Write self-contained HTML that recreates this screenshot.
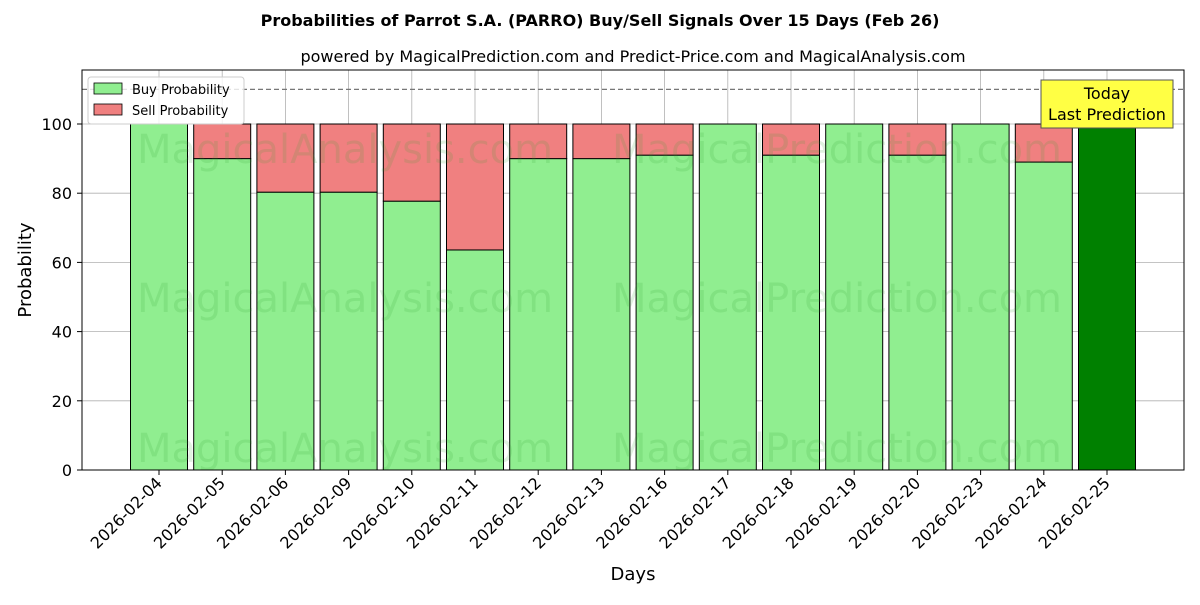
<!DOCTYPE html>
<html><head><meta charset="utf-8"><style>
body{margin:0;background:#fff;font-family:"Liberation Sans","DejaVu Sans",sans-serif}
</style></head><body>
<svg id="chart" width="1200" height="600" xmlns="http://www.w3.org/2000/svg" font-family="DejaVu Sans, Liberation Sans, sans-serif">
<rect width="1200" height="600" fill="#fff"/>
<text x="600" y="26" text-anchor="middle" font-size="16" font-weight="bold">Probabilities of Parrot S.A. (PARRO) Buy/Sell Signals Over 15 Days (Feb 26)</text>
<text x="633" y="62" text-anchor="middle" font-size="16">powered by MagicalPrediction.com and Predict-Price.com and MagicalAnalysis.com</text>
<g id="grid"></g>
<g id="bars"></g>
<g id="wm" fill="#2ca02c" fill-opacity="0.15" font-size="40">
<text x="345" y="163" text-anchor="middle">MagicalAnalysis.com</text>
<text x="837" y="163" text-anchor="middle">MagicalPrediction.com</text>
<text x="345" y="312" text-anchor="middle">MagicalAnalysis.com</text>
<text x="837" y="312" text-anchor="middle">MagicalPrediction.com</text>
<text x="345" y="462" text-anchor="middle">MagicalAnalysis.com</text>
<text x="837" y="462" text-anchor="middle">MagicalPrediction.com</text>
</g>
<line id="ref" x1="82" x2="1184" stroke="#777" stroke-width="1.2" stroke-dasharray="5,3"/>
<rect x="82" y="70" width="1102" height="400" fill="none" stroke="#000" stroke-width="1"/>
<g id="axes" font-size="16"></g>
<text x="633" y="580" text-anchor="middle" font-size="18">Days</text>
<text transform="translate(31,270) rotate(-90)" text-anchor="middle" font-size="18">Probability</text>
<g>
<rect x="88" y="77" width="156" height="47" fill="#fff" fill-opacity="0.8" stroke="#ccc" rx="3"/>
<rect x="94" y="83" width="28" height="11" fill="#90ee90" stroke="#000" stroke-width="0.8"/>
<text x="132" y="94" font-size="13">Buy Probability</text>
<rect x="94" y="104" width="28" height="11" fill="#f08080" stroke="#000" stroke-width="0.8"/>
<text x="132" y="115" font-size="13">Sell Probability</text>
</g>
<g>
<rect x="1041" y="80" width="132" height="48" fill="#ffff44" stroke="#555"/>
<text x="1107" y="99" text-anchor="middle" font-size="16">Today</text>
<text x="1107" y="120" text-anchor="middle" font-size="16">Last Prediction</text>
</g>
</svg>
<script>
const categories=["2026-02-04","2026-02-05","2026-02-06","2026-02-09","2026-02-10","2026-02-11","2026-02-12","2026-02-13","2026-02-16","2026-02-17","2026-02-18","2026-02-19","2026-02-20","2026-02-23","2026-02-24","2026-02-25"];
const buyValues=[100,90,80.3,80.3,77.7,63.6,90,90,91,100,91,100,91,100,89,100];
const sellValues=[0,10,19.7,19.7,22.3,36.4,10,10,9,0,9,0,9,0,11,0];
const yTicks=[0,20,40,60,80,100];
const NS="http://www.w3.org/2000/svg";
const y=v=>470-v*3.46;
const x=i=>159+i*63.2;
const bw=57;
function mk(tag,attrs,parent){const e=document.createElementNS(NS,tag);for(const k in attrs)e.setAttribute(k,attrs[k]);parent.appendChild(e);return e;}
document.getElementById('ref').setAttribute('y1',y(110));
document.getElementById('ref').setAttribute('y2',y(110));
const grid=document.getElementById('grid'),bars=document.getElementById('bars'),axes=document.getElementById('axes');
yTicks.forEach(t=>{
 const g=mk('line',{x1:82,x2:1184,y1:y(t),y2:y(t),stroke:'#b0b0b0','stroke-width':0.8},grid);
 
 
 const tk=mk('line',{x1:77,x2:82,y1:y(t),y2:y(t),stroke:'#000'},axes);
 
 
 const tx=mk('text',{x:72,y:y(t)+6,'text-anchor':'end'},axes);tx.textContent=t;
 
 
});
categories.forEach((c,i)=>{
 const cx=x(i);
 const g=mk('line',{x1:cx,x2:cx,y1:70,y2:470,stroke:'#b0b0b0','stroke-width':0.8},grid);
 
 
 const last=i===categories.length-1;
 const b=mk('rect',{x:cx-bw/2,y:y(buyValues[i]),width:bw,height:buyValues[i]*3.46,fill:last?'#008000':'#90ee90',stroke:'#000','stroke-width':1},bars);
 
 
 if(sellValues[i]>0){
  const s=mk('rect',{x:cx-bw/2,y:y(buyValues[i]+sellValues[i]),width:bw,height:sellValues[i]*3.46,fill:'#f08080',stroke:'#000','stroke-width':1},bars);
  
  
 }
 const tk=mk('line',{x1:cx,x2:cx,y1:470,y2:475,stroke:'#000'},axes);
 
 
 const tx=mk('text',{x:cx+4,y:484,'text-anchor':'end',transform:`rotate(-45 ${cx+4} 484)`},axes);tx.textContent=c;
 
 
});
</script>
</body></html>
